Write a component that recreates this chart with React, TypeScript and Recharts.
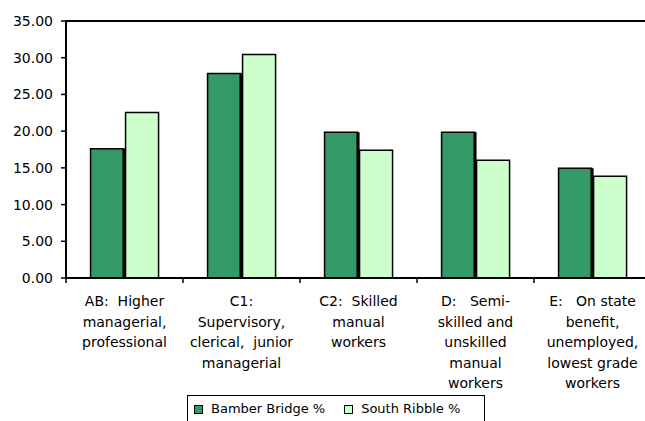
import React from "react";
import { BarChart, Bar, XAxis, YAxis, Legend, ReferenceLine } from "recharts";

const categories = [
  "AB: Higher managerial, professional",
  "C1: Supervisory, clerical, junior managerial",
  "C2: Skilled manual workers",
  "D: Semi-skilled and unskilled manual workers",
  "E: On state benefit, unemployed, lowest grade workers",
];

// wrapped tick labels, one array per category
const tickLines = [
  ["AB:  Higher", "managerial,", "professional"],
  ["C1:", "Supervisory,", "clerical,  junior", "managerial"],
  ["C2:  Skilled", "manual", "workers"],
  ["D:   Semi-", "skilled and", "unskilled", "manual", "workers"],
  ["E:   On state", "benefit,", "unemployed,", "lowest grade", "workers"],
];

const bamberBridge = [17.6, 27.85, 19.85, 19.85, 14.95];
const southRibble = [22.55, 30.45, 17.4, 16.05, 13.85];
const yTicks = [0, 5, 10, 15, 20, 25, 30, 35];

const FONT = "'DejaVu Sans', sans-serif";
const DARK = "#339966";
const LIGHT = "#CCFFCC";

const data = categories.map((name, i) => ({
  name,
  bamber: bamberBridge[i],
  ribble: southRibble[i],
}));

function CategoryTick(props: any) {
  const { x, y, payload, index } = props;
  const i = payload?.index ?? index;
  const off = payload?.offset ?? 0;
  const lines = tickLines[i] || [];
  return (
    <g>
      <line x1={x - off} x2={x - off} y1={y} y2={y + 5} stroke="#000" strokeWidth={1.5} />
      <text
        x={x}
        y={y + 28}
        textAnchor="middle"
        fontFamily={FONT}
        fontSize={14}
        fill="#000"
        style={{ whiteSpace: "pre" }}
      >
        {lines.map((l, k) => (
          <tspan key={k} x={x} dy={k === 0 ? 0 : 20.5}>
            {l}
          </tspan>
        ))}
      </text>
    </g>
  );
}

function DarkBar(props: any) {
  const { x, y, width, height, fill } = props;
  if (!height || height <= 0) return null;
  return (
    <g>
      <rect x={x} y={y} width={width} height={height} fill={fill} stroke="#000" strokeWidth={1.5} />
      <rect x={x + width - 1} y={y} width={3} height={height} fill="#000" />
    </g>
  );
}

function LegendBox() {
  const item = (color: string, label: string) => (
    <div style={{ display: "flex", alignItems: "center" }}>
      <span
        style={{
          display: "inline-block",
          width: 7,
          height: 7,
          background: color,
          border: "1px solid #000",
          marginRight: 8,
        }}
      />
      <span>{label}</span>
    </div>
  );
  return (
    <div
      style={{
        boxSizing: "border-box",
        width: 298,
        height: 32,
        border: "1.5px solid #000",
        background: "#fff",
        display: "flex",
        alignItems: "flex-start",
        paddingTop: 5,
        paddingLeft: 6,
        gap: 19,
        fontFamily: FONT,
        fontSize: 13,
        color: "#000",
        lineHeight: "16px",
      }}
    >
      {item(DARK, "Bamber Bridge %")}
      {item(LIGHT, "South Ribble %")}
    </div>
  );
}

export default function App() {
  return (
    <div
      style={{
        position: "fixed",
        left: 0,
        top: 0,
        width: 645,
        height: 421,
        overflow: "hidden",
        background: "#fff",
      }}
    >
      <BarChart
        width={660}
        height={421}
        data={data}
        margin={{ top: 21, right: 9, bottom: 23, left: 0 }}
        barCategoryGap="21%"
        barGap={2}
      >
        <XAxis
          dataKey="name"
          height={120}
          axisLine={{ stroke: "#000", strokeWidth: 2 }}
          tickLine={false}
          tickSize={0}
          tickMargin={0}
          interval={0}
          tick={<CategoryTick />}
        />
        <YAxis
          domain={[0, 35]}
          ticks={yTicks}
          interval={0}
          width={66}
          tickSize={5}
          tickMargin={8}
          tickFormatter={(v) => Number(v).toFixed(2)}
          axisLine={{ stroke: "#000", strokeWidth: 2 }}
          tickLine={{ stroke: "#000", strokeWidth: 1.5 }}
          tick={{ fontFamily: FONT, fontSize: 14, fill: "#000" }}
        />
        <ReferenceLine y={35} stroke="#000" strokeWidth={2} />
        <Legend
          layout="horizontal"
          verticalAlign="middle"
          align="center"
          wrapperStyle={{ left: 187, top: 395, width: 298 }}
          content={<LegendBox />}
        />
        <Bar
          dataKey="bamber"
          name="Bamber Bridge %"
          fill={DARK}
          shape={<DarkBar />}
          isAnimationActive={false}
        />
        <Bar
          dataKey="ribble"
          name="South Ribble %"
          fill={LIGHT}
          stroke="#000"
          strokeWidth={1.5}
          isAnimationActive={false}
        />
      </BarChart>
    </div>
  );
}
